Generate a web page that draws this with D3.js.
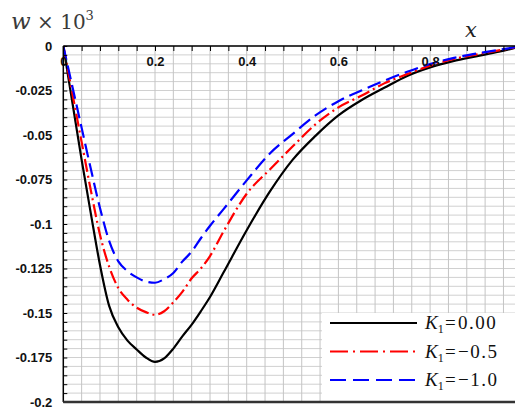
<!DOCTYPE html>
<html>
<head>
<meta charset="utf-8">
<script src="https://cdn.jsdelivr.net/npm/d3@7"></script>
<style>
  body { margin: 0; background: #fff; }
</style>
</head>
<body>
<div id="chart"></div>
<script>
// data
const xs = [0, 0.02, 0.04, 0.06, 0.08, 0.1, 0.12, 0.14, 0.16, 0.18, 0.2, 0.22, 0.24, 0.26, 0.28, 0.3,
  0.32, 0.35, 0.4, 0.45, 0.5, 0.55, 0.6, 0.65, 0.7, 0.75, 0.8, 0.85, 0.9, 0.95, 1.0];
const wK0 = [0, -0.032, -0.064, -0.094, -0.123, -0.146, -0.158, -0.1655, -0.1705, -0.175, -0.1775, -0.1755,
  -0.170, -0.163, -0.1565, -0.149, -0.141, -0.127, -0.1035, -0.082, -0.064, -0.0505, -0.039, -0.0305,
  -0.0235, -0.0168, -0.012, -0.0085, -0.0058, -0.0032, 0];
const wK05 = [0, -0.027, -0.054, -0.081, -0.106, -0.124, -0.136, -0.1425, -0.147, -0.1495, -0.151, -0.149,
  -0.144, -0.138, -0.1305, -0.125, -0.118, -0.104, -0.083, -0.0695, -0.0565, -0.044, -0.0345, -0.028,
  -0.021, -0.0158, -0.011, -0.0074, -0.0048, -0.0025, 0];
const wK10 = [0, -0.023, -0.046, -0.069, -0.091, -0.1095, -0.121, -0.1265, -0.130, -0.1323, -0.133, -0.131,
  -0.1275, -0.121, -0.1155, -0.108, -0.101, -0.0915, -0.0755, -0.0605, -0.0495, -0.039, -0.031, -0.025,
  -0.0195, -0.0145, -0.0101, -0.0068, -0.0043, -0.0022, 0];

const xTickValues = [0, 0.2, 0.4, 0.6, 0.8];
const xTickLabels = ["0", "0.2", "0.4", "0.6", "0.8"];
const yTickValues = [0, -0.025, -0.05, -0.075, -0.1, -0.125, -0.15, -0.175, -0.2];
const yTickLabels = ["0", "-0.025", "-0.05", "-0.075", "-0.1", "-0.125", "-0.15", "-0.175", "-0.2"];
const legendValues = ["0.00", "\u22120.5", "\u22121.0"];

const series = [
  { values: wK0, color: "#000", dash: null, legendDash: null },
  { values: wK05, color: "#ff0000", dash: "13 4 2 4", legendDash: "18 5 2 5" },
  { values: wK10, color: "#0000ff", dash: "14 6", legendDash: "16 7" },
];

const width = 515, height = 409;
const plotLeft = 63.3, plotTop = 46, plotBottom = 402;

const svg = d3.select("#chart").append("svg")
  .attr("width", width)
  .attr("height", height)
  .style("display", "block");

const x = d3.scaleLinear().domain([0, 1]).range([plotLeft, 521.8]);
const y = d3.scaleLinear().domain([-0.2, 0]).range([plotBottom, plotTop]);

svg.append("defs").append("clipPath").attr("id", "plot")
  .append("rect").attr("x", plotLeft).attr("y", plotTop - 2)
  .attr("width", width - plotLeft).attr("height", plotBottom - plotTop + 2);

//grid
const grid = svg.append("g");
grid.selectAll(".h")
  .data(d3.range(0, 41).map((i) => -i * 0.005))
  .join("line")
  .attr("x1", plotLeft).attr("x2", width)
  .attr("y1", (d) => y(d)).attr("y2", (d) => y(d))
  .attr("stroke", "#d0d0d0").attr("stroke-width", 1);
grid.selectAll(".v")
  .data(d3.range(1, 26).map((i) => i * 0.04))
  .join("line")
  .attr("x1", (d) => x(d)).attr("x2", (d) => x(d))
  .attr("y1", plotTop).attr("y2", plotBottom)
  .attr("stroke", "#c4c4c4").attr("stroke-width", 1);

//curves
const line = d3.line()
  .x((d, i) => x(xs[i]))
  .y((d) => y(d))
  .curve(d3.curveMonotoneX);

const curves = svg.append("g").attr("clip-path", "url(#plot)");
series.forEach((s) => {
  curves.append("path")
    .attr("d", line(s.values))
    .attr("fill", "none")
    .attr("stroke", s.color)
    .attr("stroke-width", 2.2)
    .attr("stroke-dasharray", s.dash);
});

//axes
const tickFont = "bold 13px 'Liberation Sans', Arial, sans-serif";

const xMinor = svg.append("g").attr("transform", `translate(0,${plotTop})`)
  .call(d3.axisBottom(x).tickValues(d3.range(0, 26).map((i) => i * 0.04)).tickSize(5).tickFormat(""));
xMinor.select(".domain").remove();
xMinor.selectAll("line").attr("stroke", "#000");

const xAxis = svg.append("g").attr("transform", `translate(0,${plotTop})`)
  .call(d3.axisBottom(x).tickValues(xTickValues).tickSize(0).tickPadding(11)
    .tickFormat((d, i) => xTickLabels[i]));
xAxis.select(".domain").remove();
xAxis.selectAll("text").style("font", tickFont).attr("fill", "#111");

const yMinor = svg.append("g").attr("transform", `translate(${plotLeft},0)`)
  .call(d3.axisRight(y).tickValues(d3.range(0, 41).map((i) => -i * 0.005)).tickSize(4).tickFormat(""));
yMinor.select(".domain").remove();
yMinor.selectAll("line").attr("stroke", "#000");

const yAxis = svg.append("g").attr("transform", `translate(${plotLeft},0)`)
  .call(d3.axisLeft(y).tickValues(yTickValues).tickSize(0).tickPadding(11)
    .tickFormat((d, i) => yTickLabels[i]));
yAxis.select(".domain").remove();
yAxis.selectAll("text").style("font", tickFont).attr("fill", "#111");

svg.append("line").attr("x1", plotLeft).attr("x2", width).attr("y1", plotTop).attr("y2", plotTop)
  .attr("stroke", "#000").attr("stroke-width", 1.5);
svg.append("line").attr("x1", plotLeft).attr("x2", plotLeft).attr("y1", plotTop).attr("y2", plotBottom)
  .attr("stroke", "#000").attr("stroke-width", 1.5);

//legend
const legendFont = "19px 'Liberation Serif', 'Times New Roman', serif";
const lg = svg.append("g");
lg.append("rect").attr("x", 322).attr("y", 313).attr("width", width - 322).attr("height", plotBottom - 313)
  .attr("fill", "#fff");
series.forEach((s, i) => {
  const ly = 323 + i * 28.5;
  lg.append("line").attr("x1", 330).attr("x2", 417).attr("y1", ly).attr("y2", ly)
    .attr("stroke", s.color).attr("stroke-width", 2.2)
    .attr("stroke-dasharray", s.legendDash);
  const t = lg.append("text").attr("x", 425).attr("y", ly + 6)
    .style("font", legendFont).attr("fill", "#111");
  t.append("tspan").attr("font-style", "italic").text("K");
  t.append("tspan").attr("font-size", "12px").attr("dy", 4).text("1");
  lg.append("text").attr("x", 445).attr("y", ly + 6)
    .style("font", legendFont).attr("fill", "#111").text("=");
  lg.append("text").attr("x", 458).attr("y", ly + 6)
    .style("font", legendFont).style("letter-spacing", "1.5px").attr("fill", "#111")
    .text(legendValues[i]);
});

svg.append("line").attr("x1", plotLeft).attr("x2", width).attr("y1", plotBottom).attr("y2", plotBottom)
  .attr("stroke", "#333").attr("stroke-width", 2.5);

//axis titles
const title = svg.append("text").attr("x", 11).attr("y", 29)
  .style("font", "20px 'DejaVu Serif', serif").attr("fill", "#3a3a3a");
title.append("tspan").attr("font-style", "italic").attr("font-size", "23px").text("w");
title.append("tspan").text(" \u00d7 10");
title.append("tspan").attr("font-size", "13px").attr("dy", -9).text("3");

svg.append("text").attr("x", 465).attr("y", 37)
  .style("font", "italic 21px 'DejaVu Serif', serif").attr("fill", "#222").text("x");
</script>
</body>
</html>
